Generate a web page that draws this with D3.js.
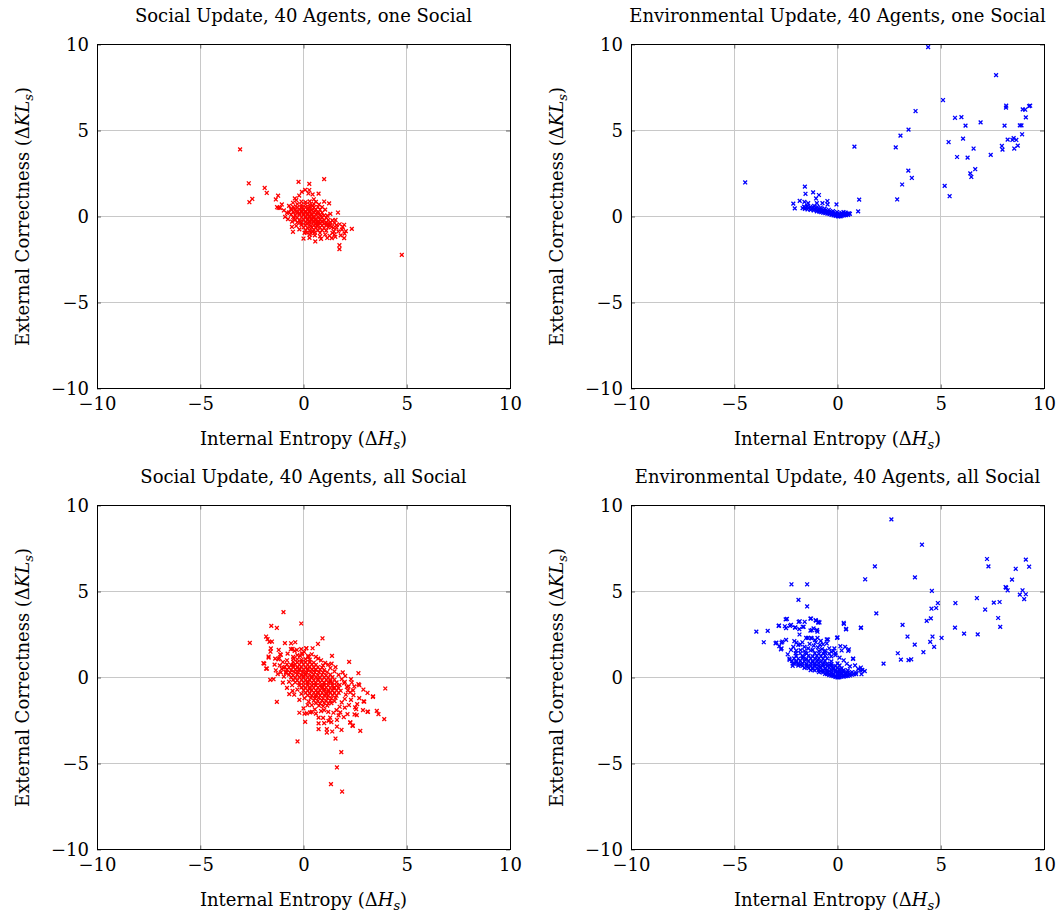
<!DOCTYPE html>
<html>
<head>
<meta charset="utf-8">
<script src="https://cdn.jsdelivr.net/npm/d3@7"></script>
<style>
  body { margin: 0; background: #fff; }
  svg { display: block; }
</style>
</head>
<body>
<script>
// values (x = internal entropy, y = external correctness)
const socialOnePoints = [
  [-3.07,3.9],[-2.65,1.93],[-2.62,0.83],[-2.48,1.02],[-1.88,1.66],[-1.78,1.37],[-1.34,0.99],[-1.23,1.21],
  [-1.28,0.54],[-1.13,0.5],[-1.05,0.7],[-0.24,2.01],[0.28,1.9],[1.0,2.17],[-0.08,1.43],[0.08,1.55],
  [0.28,1.54],[0.44,1.28],[0.73,1.33],[-0.21,1.22],[0.24,1.34],[-0.42,1.05],[-0.51,0.8],[1.0,0.87],
  [1.24,0.76],[1.67,0.23],[-0.56,-0.6],[-0.51,-0.89],[0.0,-1.28],[0.29,-1.24],[0.57,-1.45],[1.54,-1.18],
  [1.74,-1.67],[1.74,-1.9],[1.97,-0.48],[2.34,-0.72],[1.99,-1.0],[1.97,-1.26],[4.76,-2.23],[1.26,-1.12],
  [1.37,-1.26],[1.05,-1.05],[1.47,-0.87],[1.69,-0.87],[1.86,-0.76],[1.37,-0.6],[1.21,-0.5],[-0.89,-0.02],
  [-0.8,0.21],[-1.21,0.5],
  [-0.95,0.35],[-0.7,0.62],[-0.35,0.95],[0.5,1.0],[0.75,0.7],[1.05,0.4],[1.3,0.15],[1.55,-0.2],
  [1.75,-0.45],[1.6,-0.65],[1.4,-0.95],[1.15,-1.25],[0.8,-1.15],[0.55,-1.1],[0.3,-1.05],[0.05,-0.95],
  [-0.2,-0.75],[-0.35,-0.55],[-0.55,-0.3],[-0.75,-0.15],[1.9,-0.6],[2.05,-0.85],[1.5,-1.05],[0.85,-1.3],
  [-0.6,0.45],[0.6,0.85],[0.9,0.55],[1.15,0.05],[-0.45,-0.1],[1.8,-1.1],
  [-0.1,0.87],[0.1,0.83],[0.3,0.88],
  [-0.3,0.72],[-0.1,0.68],[0.1,0.71],[0.3,0.69],[0.5,0.73],
  [-0.5,0.56],[-0.3,0.53],[-0.1,0.57],[0.1,0.54],[0.3,0.56],[0.5,0.52],[0.7,0.55],
  [-0.6,0.41],[-0.4,0.38],[-0.2,0.42],[0.0,0.39],[0.2,0.41],[0.4,0.37],[0.6,0.42],[0.8,0.39],
  [-0.7,0.24],[-0.5,0.27],[-0.3,0.23],[-0.1,0.26],[0.1,0.24],[0.3,0.27],[0.5,0.23],[0.7,0.26],[0.9,0.22],
  [-0.6,0.11],[-0.4,0.08],[-0.2,0.12],[0.0,0.09],[0.2,0.11],[0.4,0.08],[0.6,0.12],[0.8,0.09],[1.0,0.07],
  [-0.5,-0.04],[-0.3,-0.07],[-0.1,-0.03],[0.1,-0.06],[0.3,-0.04],[0.5,-0.07],[0.7,-0.03],[0.9,-0.06],[1.1,-0.08],
  [-0.4,-0.19],[-0.2,-0.22],[0.0,-0.18],[0.2,-0.21],[0.4,-0.19],[0.6,-0.22],[0.8,-0.18],[1.0,-0.21],[1.2,-0.2],[1.4,-0.23],
  [-0.3,-0.34],[-0.1,-0.37],[0.1,-0.33],[0.3,-0.36],[0.5,-0.34],[0.7,-0.37],[0.9,-0.33],[1.1,-0.36],[1.3,-0.34],[1.5,-0.38],
  [-0.1,-0.49],[0.1,-0.52],[0.3,-0.48],[0.5,-0.51],[0.7,-0.49],[0.9,-0.52],[1.1,-0.48],[1.3,-0.51],[1.6,-0.5],
  [0.0,-0.64],[0.2,-0.67],[0.4,-0.63],[0.6,-0.66],[0.8,-0.64],[1.0,-0.67],[1.2,-0.63],[1.45,-0.66],
  [0.1,-0.79],[0.3,-0.82],[0.5,-0.78],[0.7,-0.81],[0.9,-0.79],[1.1,-0.82],
  [0.15,-0.94],[0.35,-0.97],[0.55,-0.93],[0.8,-0.96],
  [0.0,0.17],[0.2,0.18],[0.4,0.16],[0.1,0.0],[0.3,0.02],[0.5,0.0],[0.2,-0.12],[0.4,-0.12],[0.6,-0.13],
  [0.3,-0.27],[0.5,-0.28],[0.7,-0.27],[0.1,0.32],[0.3,0.33],[-0.1,0.33],[-0.2,0.18],[0.6,-0.42],[0.8,-0.42],
  [0.9,-0.27],[0.7,0.17],
  [-0.05,0.5],[0.25,0.47],[0.45,0.62],[-0.35,0.3],[0.15,-0.42],[0.35,-0.57],[0.65,-0.56],[1.0,-0.41],
  [-0.15,-0.28],[0.85,0.02],[0.55,0.33],[-0.45,0.48],[1.25,-0.42],[0.45,-0.88]
];

const envOnePoints = [
  [-4.47,1.98],[-2.14,0.75],[-2.07,0.47],[-1.83,0.91],[-1.58,1.74],[-1.55,1.32],[-1.69,0.49],[-1.62,0.58],
  [-1.6,0.85],[-1.42,0.78],[-1.18,1.4],[-1.04,1.05],[-0.9,1.25],[-1.0,0.78],[-0.73,0.78],[-0.49,0.9],
  [-0.48,0.7],[-0.05,0.7],[0.82,4.06],[1.05,0.98],[1.0,0.3],[0.56,0.18],
  [2.82,4.02],[2.89,0.99],[3.05,4.7],[3.13,1.86],[3.43,2.67],[3.44,5.05],[3.6,2.24],[3.78,6.13],
  [4.39,9.85],[5.11,6.77],[5.19,1.78],[5.38,4.33],[5.43,1.18],[5.69,5.74],[5.79,3.46],[6.0,5.78],
  [6.08,4.53],[6.2,5.28],[6.3,3.42],[6.43,2.51],[6.48,2.3],[6.59,3.95],[6.67,2.75],[6.93,5.47],
  [7.42,3.58],[7.68,8.22],[7.96,4.1],[7.99,3.89],[8.09,5.28],[8.16,6.33],[8.17,6.44],[8.24,4.47],
  [8.47,4.45],[8.53,4.56],[8.56,3.95],[8.66,4.45],[8.73,4.12],[8.83,5.3],[8.91,5.3],[8.94,4.78],
  [8.97,6.23],[9.09,6.21],[9.12,5.76],[9.28,6.42],[9.33,6.44],
  [-1.6,0.55],[-1.58,0.44],[-1.47,0.6],[-1.45,0.41],[-1.42,0.51],[-1.32,0.56],[-1.3,0.38],[-1.27,0.47],
  [-1.17,0.5],[-1.15,0.35],[-1.12,0.43],[-1.13,0.62],[-1.02,0.46],[-1.0,0.3],[-0.97,0.38],[-0.98,0.56],
  [-0.9,0.42],[-0.88,0.28],[-0.86,0.35],[-0.8,0.41],[-0.79,0.25],[-0.77,0.33],[-0.81,0.52],[-0.7,0.36],
  [-0.69,0.22],[-0.67,0.3],[-0.6,0.33],[-0.59,0.2],[-0.57,0.27],[-0.62,0.46],[-0.5,0.3],[-0.49,0.17],
  [-0.47,0.23],[-0.4,0.27],[-0.39,0.14],[-0.37,0.2],[-0.42,0.39],[-0.3,0.23],[-0.29,0.1],[-0.27,0.16],
  [-0.2,0.2],[-0.19,0.07],[-0.17,0.13],[-0.22,0.31],[-0.1,0.16],[-0.09,0.04],[-0.07,0.1],[0.0,0.12],
  [0.01,0.02],[0.03,0.07],[-0.02,0.26],[0.1,0.1],[0.11,0.03],[0.09,0.17],[0.2,0.12],[0.21,0.05],
  [0.19,0.21],[0.3,0.14],[0.31,0.07],[0.29,0.26],[0.4,0.15],[0.41,0.08],[0.39,0.23],[0.5,0.17],
  [0.51,0.1],[0.6,0.15],[0.05,0.0],[0.15,0.01]
];

const socialAllPoints = [
  [-0.97,3.8],[-0.11,3.14],[-1.56,3.0],[-1.29,2.88],[-2.6,2.01],[-1.81,2.38],[-1.74,2.23],[-1.65,2.07],
  [-1.53,2.09],[-1.58,1.69],[-0.6,1.99],[0.92,2.28],[0.7,1.95],[0.44,1.7],[0.13,1.7],[-0.11,1.65],
  [-0.32,1.6],[-0.61,1.65],[1.38,1.26],[0.71,1.1],[0.24,1.2],[-1.13,1.35],[-1.69,1.16],[-1.37,1.1],
  [-0.08,1.35],[0.03,1.49],[-0.16,1.26],[-0.48,1.1],
  [-1.94,0.83],[-1.81,0.52],[-1.69,1.22],[-1.34,0.42],[-1.61,-0.14],[-1.45,-0.1],[-0.97,0.58],[-1.21,1.06],
  [-1.29,-1.42],[-0.69,-0.97],[-0.53,-0.78],[-0.29,-3.72],[0.08,-2.58],[0.0,-1.8],[0.16,-2.08],[0.32,-2.03],
  [0.4,-2.0],[0.73,-2.33],[0.73,-2.67],[0.73,-3.0],[1.13,-3.0],[1.13,-3.2],[1.39,-3.14],[1.55,-3.55],
  [1.62,-2.85],[1.84,-3.05],[1.83,-4.34],[1.62,-5.23],[1.33,-6.2],[1.87,-6.63],
  [2.21,0.91],[2.66,0.25],[3.96,-0.64],[3.36,-1.13],[2.94,-1.4],[3.12,-2.0],[3.55,-1.94],[3.91,-2.42],
  [3.63,-2.13],[2.75,-3.1],[2.26,-2.62],[2.39,-2.81],[2.58,-2.19],[2.55,-1.84],[2.13,-2.13],[1.78,-2.03],
  [1.62,-2.47],[1.29,-2.33],[1.21,-2.52],[2.66,-0.39],[2.46,-0.52],[2.34,-0.29],[2.02,0.09],[2.26,-0.87],
  [2.5,-1.74],[2.88,-1.9],[1.97,-0.33],[2.18,-0.52],[3.37,-1.1],[3.1,-1.99],[2.91,-1.39],[2.7,-0.44],
  [2.42,-1.03],[2.47,-2.15],[2.27,-2.61],[2.37,-2.79],
  [-1.9,0.81],[-1.77,0.52],[-0.77,1.39],[-0.43,1.55],[-0.53,1.66],[-1.17,1.12],[-1.1,1.32],[0.95,0.7],
  [1.36,0.81],[0.22,1.26],[-0.06,1.41],[0.14,1.7],
  [-1.0,0.9],[-1.15,0.7],[-1.1,0.3],[-0.95,0.05],[-1.05,0.5],[1.05,0.85],[1.3,0.55],[1.5,0.35],
  [1.7,0.15],[1.85,-0.1],[2.0,-0.25],[2.1,-0.55],[2.15,-0.75],[2.05,-1.0],[2.0,-1.25],[1.85,-1.45],
  [1.75,-1.7],[1.6,-1.9],[1.45,-2.05],[1.2,-2.0],[1.0,-1.9],[0.85,-1.95],[0.55,-1.85],[0.4,-1.6],
  [0.25,-1.4],[0.05,-1.2],[-0.1,-0.95],[-0.3,-0.7],[-0.55,-0.45],[-0.7,-0.25],[-0.85,0.25],[-0.8,1.0],
  [-0.5,1.2],[-0.3,1.3],[0.4,1.35],[0.6,1.2],[0.85,1.0],[1.2,0.75],[1.55,0.6],[1.9,0.3],
  [2.3,-0.1],[2.4,-0.75],[2.3,-1.3],[2.2,-1.6],[2.0,-1.75],[1.95,-2.3],[1.35,-2.6],[0.95,-2.35],
  [0.6,-2.1],[0.2,-1.6],[-0.2,-1.3],[-0.45,-1.0],[-0.8,-0.6],[-1.0,-0.3],[-1.25,0.2],[-1.4,0.75],
  [-0.2,-2.05],[0.05,-2.1],[1.7,-2.2],[2.7,-1.2],[2.9,-0.7],[3.1,-0.9],[2.6,-1.55],[1.0,-2.65],
  [-1.6,1.5],[-1.2,1.6],[-0.9,2.0],[-0.4,2.05],
  [-0.3,1.06],[-0.1,1.03],[0.1,1.07],[0.3,1.04],
  [-0.5,0.91],[-0.3,0.88],[-0.1,0.92],[0.1,0.89],[0.3,0.91],[0.5,0.87],
  [-0.8,0.76],[-0.6,0.73],[-0.4,0.77],[-0.2,0.74],[0.0,0.76],[0.2,0.73],[0.4,0.77],[0.6,0.74],
  [-0.9,0.61],[-0.7,0.58],[-0.5,0.62],[-0.3,0.59],[-0.1,0.61],[0.1,0.58],[0.3,0.62],[0.5,0.59],[0.7,0.61],[0.9,0.58],
  [-0.8,0.46],[-0.6,0.43],[-0.4,0.47],[-0.2,0.44],[0.0,0.46],[0.2,0.43],[0.4,0.47],[0.6,0.44],[0.8,0.46],[1.0,0.43],
  [-0.85,0.31],[-0.65,0.28],[-0.45,0.32],[-0.25,0.29],[-0.05,0.31],[0.15,0.28],[0.35,0.32],[0.55,0.29],[0.75,0.31],[0.95,0.28],[1.15,0.32],
  [-0.7,0.16],[-0.5,0.13],[-0.3,0.17],[-0.1,0.14],[0.1,0.16],[0.3,0.13],[0.5,0.17],[0.7,0.14],[0.9,0.16],[1.1,0.13],[1.3,0.17],
  [-0.6,0.01],[-0.4,-0.02],[-0.2,0.02],[0.0,-0.01],[0.2,0.01],[0.4,-0.02],[0.6,0.02],[0.8,-0.01],[1.0,0.01],[1.2,-0.02],[1.4,0.02],
  [-0.5,-0.14],[-0.3,-0.17],[-0.1,-0.13],[0.1,-0.16],[0.3,-0.14],[0.5,-0.17],[0.7,-0.13],[0.9,-0.16],[1.1,-0.14],[1.3,-0.17],[1.5,-0.13],
  [-0.4,-0.29],[-0.2,-0.32],[0.0,-0.28],[0.2,-0.31],[0.4,-0.29],[0.6,-0.32],[0.8,-0.28],[1.0,-0.31],[1.2,-0.29],[1.4,-0.32],[1.6,-0.28],
  [-0.2,-0.44],[0.0,-0.47],[0.2,-0.43],[0.4,-0.46],[0.6,-0.44],[0.8,-0.47],[1.0,-0.43],[1.2,-0.46],[1.4,-0.44],[1.6,-0.47],[1.75,-0.43],
  [-0.1,-0.59],[0.1,-0.62],[0.3,-0.58],[0.5,-0.61],[0.7,-0.59],[0.9,-0.62],[1.1,-0.58],[1.3,-0.61],[1.5,-0.59],[1.7,-0.62],
  [0.0,-0.74],[0.2,-0.77],[0.4,-0.73],[0.6,-0.76],[0.8,-0.74],[1.0,-0.77],[1.2,-0.73],[1.4,-0.76],[1.6,-0.74],[1.8,-0.77],
  [0.1,-0.89],[0.3,-0.92],[0.5,-0.88],[0.7,-0.91],[0.9,-0.89],[1.1,-0.92],[1.3,-0.88],[1.5,-0.91],[1.7,-0.89],
  [0.2,-1.04],[0.4,-1.07],[0.6,-1.03],[0.8,-1.06],[1.0,-1.04],[1.2,-1.07],[1.4,-1.03],[1.6,-1.06],
  [0.35,-1.19],[0.55,-1.22],[0.75,-1.18],[0.95,-1.21],[1.15,-1.19],[1.35,-1.22],[1.55,-1.18],
  [0.5,-1.34],[0.7,-1.37],[0.9,-1.33],[1.1,-1.36],[1.3,-1.34],[1.5,-1.37],
  [0.6,-1.49],[0.8,-1.52],[1.0,-1.48],[1.2,-1.51],[1.35,-1.49],
  [0.75,-1.64],[0.95,-1.67],[1.15,-1.63],
  [-0.2,0.52],[0.2,0.52],[0.5,0.38],[0.1,0.22],[0.4,0.07],[0.7,-0.07],[0.2,-0.22],[0.5,-0.38],
  [0.9,-0.52],[0.3,-0.68],[0.7,-0.83],[1.1,-0.98],[1.3,-0.25],[-0.3,0.36],[0.0,0.08],[1.0,-0.68],
  [0.6,-1.12],[1.2,-0.82],[-0.5,0.72],[1.45,-0.62]
];

const envAllPoints = [
  [2.61,9.19],[4.09,7.72],[1.81,6.46],[1.34,5.71],[3.75,5.82],[4.57,5.03],[1.88,3.73],[3.15,3.06],
  [3.39,2.38],[3.74,1.91],[2.92,1.41],[3.07,1.04],[3.44,1.01],[3.57,1.06],[2.23,0.81],[4.16,1.47],
  [4.32,3.29],[4.49,2.07],[4.52,3.44],[4.55,4.0],[4.6,2.38],[4.68,1.78],[4.78,4.04],[4.86,4.33],
  [5.04,2.3],[5.71,4.33],[5.69,2.9],[6.13,2.55],[6.75,4.62],[6.79,2.51],[7.15,3.95],[7.24,6.89],
  [7.31,6.46],[7.57,4.35],[7.78,3.46],[7.85,4.39],[7.88,2.94],[8.14,5.26],[8.17,5.22],[8.24,5.07],
  [8.45,5.69],[8.63,6.32],[8.83,4.82],[8.96,5.07],[9.04,4.56],[9.12,4.84],[9.12,6.85],[9.28,6.44],
  [0.31,3.11],[0.41,2.8],[-0.02,2.3],[1.13,2.88],[0.75,1.08],[1.13,0.58],[1.32,0.37],[0.52,1.55],
  [1.2,0.44],[1.16,0.19],
  [-3.93,2.67],[-3.57,2.05],[-3.38,2.71],[-3.0,1.99],[-2.85,3.0],[-2.74,1.64],[-2.71,2.03],[-2.51,3.38],
  [-2.55,2.98],[-2.23,5.42],[-1.47,5.42],[-1.89,4.51],[-1.47,4.13],[-1.88,3.23],[-2.3,3.0],[-2.06,2.9],
  [-1.31,3.42],[-1.04,3.31],[-0.93,3.19],[-1.68,2.94],[-1.31,2.73],[-0.99,2.75],[-0.52,2.22],[-0.7,1.93],
  [-1.84,2.5],[-1.99,2.03],[-1.52,2.3],[-1.29,2.3],[-2.41,1.35],[-2.32,1.03],[-2.17,0.68],
  [-2.45,3.41],[-2.25,3.06],[-2.04,2.91],[-2.49,2.87],[-2.83,3.02],[-1.83,3.27],[-1.59,3.24],[-1.28,3.43],
  [-1.06,3.33],[-0.92,3.24],[-0.87,3.2],[-1.85,2.81],[-1.64,2.95],[-1.24,2.75],[-1.16,2.85],[-1.0,2.75],
  [-0.97,2.66],[-2.49,2.19],[-2.09,2.11],[-1.8,1.92],[-1.44,2.3],[-1.25,2.27],[-1.09,2.17],[-0.97,2.3],
  [-0.81,2.13],[-0.46,2.21],[-0.52,1.98],[0.0,2.33],[0.3,3.18],[0.42,2.83],[1.14,2.9],[0.76,1.1],
  [0.55,1.63],[0.14,1.82],[0.37,1.78],[-0.15,1.69],[-2.14,1.78],[-2.33,1.1],[-2.17,0.81],[-2.03,1.4],
  [-1.79,1.59],[-1.6,1.78],[-1.42,1.69],[-2.96,2.03],[-2.67,2.09],[-2.82,1.82],[-2.71,1.69],
  [-1.9,1.9],[-1.7,2.05],[-1.35,1.95],[-1.15,1.85],[-0.95,1.75],[-0.75,1.65],[-0.4,1.7],[-0.3,1.5],
  [-0.1,1.3],[0.1,1.15],[0.3,1.0],[0.45,0.8],[0.6,0.65],[0.85,0.7],[1.0,0.5],[-1.55,1.45],
  [-1.2,1.6],[-0.6,1.45],[-2.25,1.6],[-1.05,2.05],[-0.85,1.9],[-1.65,1.2],
  [-0.1,0.03],[0.1,0.02],[0.0,0.0],[0.3,0.05],[0.05,0.01],[-0.05,0.05],
  [-0.3,0.11],[-0.1,0.09],[0.1,0.1],[0.3,0.12],[0.5,0.09],
  [-0.6,0.21],[-0.4,0.19],[-0.2,0.22],[0.0,0.18],[0.2,0.21],[0.4,0.19],[0.6,0.22],[0.8,0.2],
  [-0.9,0.31],[-0.7,0.29],[-0.5,0.32],[-0.3,0.28],[-0.1,0.31],[0.1,0.29],[0.3,0.32],[0.5,0.28],[0.7,0.31],[0.9,0.29],
  [-1.3,0.43],[-1.1,0.41],[-0.9,0.44],[-0.7,0.4],[-0.5,0.43],[-0.3,0.41],[-0.1,0.44],[0.1,0.4],[0.3,0.43],[0.5,0.41],[1.1,0.42],
  [-1.6,0.56],[-1.4,0.54],[-1.2,0.57],[-1.0,0.53],[-0.8,0.56],[-0.6,0.54],[-0.4,0.57],[-0.2,0.53],[0.0,0.56],[0.2,0.54],
  [-1.9,0.69],[-1.7,0.67],[-1.5,0.7],[-1.3,0.66],[-1.1,0.69],[-0.9,0.67],[-0.7,0.7],[-0.5,0.66],[-0.3,0.69],[-0.1,0.67],[0.1,0.7],
  [-2.1,0.81],[-1.9,0.79],[-1.7,0.82],[-1.5,0.78],[-1.3,0.81],[-1.1,0.79],[-0.9,0.82],[-0.7,0.78],[-0.5,0.81],[-0.3,0.79],[0.0,0.82],
  [-2.2,0.96],[-2.0,0.94],[-1.8,0.97],[-1.6,0.93],[-1.4,0.96],[-1.2,0.94],[-1.0,0.97],[-0.8,0.93],[-0.6,0.96],[-0.3,0.94],
  [-2.1,1.11],[-1.9,1.09],[-1.7,1.12],[-1.5,1.08],[-1.3,1.11],[-1.1,1.09],[-0.9,1.12],[-0.7,1.08],[-0.5,1.11],
  [-2.0,1.26],[-1.7,1.24],[-1.4,1.27],[-1.2,1.23],[-1.0,1.26],[-0.8,1.24],[-0.6,1.27],[-0.3,1.23],
  [-1.8,1.41],[-1.5,1.39],[-1.1,1.42],[-0.9,1.38],[-0.7,1.41],[-0.4,1.39],[-0.1,1.42],
  [-2.0,1.56],[-1.6,1.54],[-1.3,1.57],[-0.9,1.53],[-0.6,1.56],[-0.2,1.54],[0.2,1.57],
  [0.2,0.06],[0.4,0.08],[0.6,0.12],[-0.2,0.08],[-0.4,0.14],[-0.5,0.2],[0.7,0.16],[0.9,0.2],
  [-0.8,0.37],[-0.4,0.36],[0.0,0.35],[0.4,0.26],[-1.2,0.49],[-0.6,0.48],[-0.2,0.47],[0.15,0.47],
  [-1.45,0.62],[-0.85,0.61],[-0.25,0.6],[-1.75,0.75],[-1.0,0.74],[-0.4,0.73],[-2.0,0.87],[-1.2,0.88],
  [-0.65,0.87],[-1.55,1.02],[-0.95,1.03],[0.2,0.3],[-0.25,0.15],[0.05,0.24]
];

const panelTitles = [
  "Social Update, 40 Agents, one Social",
  "Environmental Update, 40 Agents, one Social",
  "Social Update, 40 Agents, all Social",
  "Environmental Update, 40 Agents, all Social"
];
const axisDomain = [-10, 10];
const tickValues = [-10, -5, 0, 5, 10];
const gridValues = [-5, 0, 5];

const width = 1060, height = 915;
const plotW = 413, plotH = 344;

const panels = [
  { title: panelTitles[0], points: socialOnePoints, color: "#ff0000", left: 97, top: 44.5 },
  { title: panelTitles[1], points: envOnePoints, color: "#0000ff", left: 631, top: 44.5 },
  { title: panelTitles[2], points: socialAllPoints, color: "#ff0000", left: 97, top: 505.5 },
  { title: panelTitles[3], points: envAllPoints, color: "#0000ff", left: 631, top: 505.5 }
];

const svg = d3.select("body").append("svg")
  .attr("width", width)
  .attr("height", height)
  .style("font-family", "'DejaVu Serif', serif");

const cross = "M-1.9,-1.9L1.9,1.9M-1.9,1.9L1.9,-1.9";

panels.forEach(panel => {
  const x = d3.scaleLinear().domain(axisDomain).range([0, plotW]);
  const y = d3.scaleLinear().domain(axisDomain).range([plotH, 0]);

  const g = svg.append("g")
    .attr("transform", `translate(${panel.left},${panel.top})`);

  // grid
  const grid = g.append("g")
    .attr("stroke", "#c8c8c8")
    .attr("stroke-width", 1)
    .attr("shape-rendering", "crispEdges");
  grid.selectAll("line.v").data(gridValues).enter().append("line")
    .attr("x1", d => x(d)).attr("x2", d => x(d))
    .attr("y1", 0).attr("y2", plotH);
  grid.selectAll("line.h").data(gridValues).enter().append("line")
    .attr("y1", d => y(d)).attr("y2", d => y(d))
    .attr("x1", 0).attr("x2", plotW);

  // inner tick marks on all four sides
  const tickSides = [
    [d3.axisBottom(x), `translate(0,${plotH})`],
    [d3.axisTop(x), "translate(0,0)"],
    [d3.axisLeft(y), "translate(0,0)"],
    [d3.axisRight(y), `translate(${plotW},0)`]
  ];
  tickSides.forEach(([axis, tr]) => {
    const a = g.append("g").attr("transform", tr)
      .call(axis.tickValues(tickValues).tickSize(-4).tickFormat(""));
    a.select(".domain").remove();
    a.selectAll("line").attr("stroke", "#444").attr("stroke-width", 0.8);
  });

  // tick labels
  const xLabels = g.append("g").attr("transform", `translate(0,${plotH})`)
    .call(d3.axisBottom(x).tickValues(tickValues).tickSize(0).tickPadding(9));
  const yLabels = g.append("g")
    .call(d3.axisLeft(y).tickValues(tickValues).tickSize(0).tickPadding(8));
  [xLabels, yLabels].forEach(a => {
    a.select(".domain").remove();
    a.selectAll("text")
      .attr("font-family", "'DejaVu Serif', serif")
      .attr("font-size", 18)
      .attr("fill", "#000");
  });

  // points
  g.append("g")
    .attr("stroke", panel.color)
    .attr("stroke-width", 1.3)
    .attr("fill", "none")
    .selectAll("path").data(panel.points).enter().append("path")
    .attr("d", cross)
    .attr("transform", d => `translate(${x(d[0])},${y(d[1])})`);

  // frame
  g.append("rect")
    .attr("x", 0).attr("y", 0)
    .attr("width", plotW).attr("height", plotH)
    .attr("fill", "none")
    .attr("stroke", "#000")
    .attr("stroke-width", 1)
    .attr("shape-rendering", "crispEdges");

  // title
  g.append("text")
    .attr("x", plotW / 2).attr("y", -23)
    .attr("text-anchor", "middle")
    .attr("font-size", 18)
    .text(panel.title);

  // x label
  const xl = g.append("text")
    .attr("x", plotW / 2).attr("y", plotH + 56)
    .attr("text-anchor", "middle")
    .attr("font-size", 18);
  xl.append("tspan").text("Internal Entropy (\u0394");
  xl.append("tspan").attr("font-style", "italic").text("H");
  xl.append("tspan").attr("font-style", "italic").attr("font-size", 13).attr("dy", 4).text("s");
  xl.append("tspan").attr("dy", -4).text(")");

  // y label
  const yl = g.append("text")
    .attr("transform", `translate(-68,${plotH / 2}) rotate(-90)`)
    .attr("text-anchor", "middle")
    .attr("font-size", 18);
  yl.append("tspan").text("External Correctness (\u0394");
  yl.append("tspan").attr("font-style", "italic").text("KL");
  yl.append("tspan").attr("font-style", "italic").attr("font-size", 13).attr("dy", 4).text("s");
  yl.append("tspan").attr("dy", -4).text(")");
});
</script>
</body>
</html>
